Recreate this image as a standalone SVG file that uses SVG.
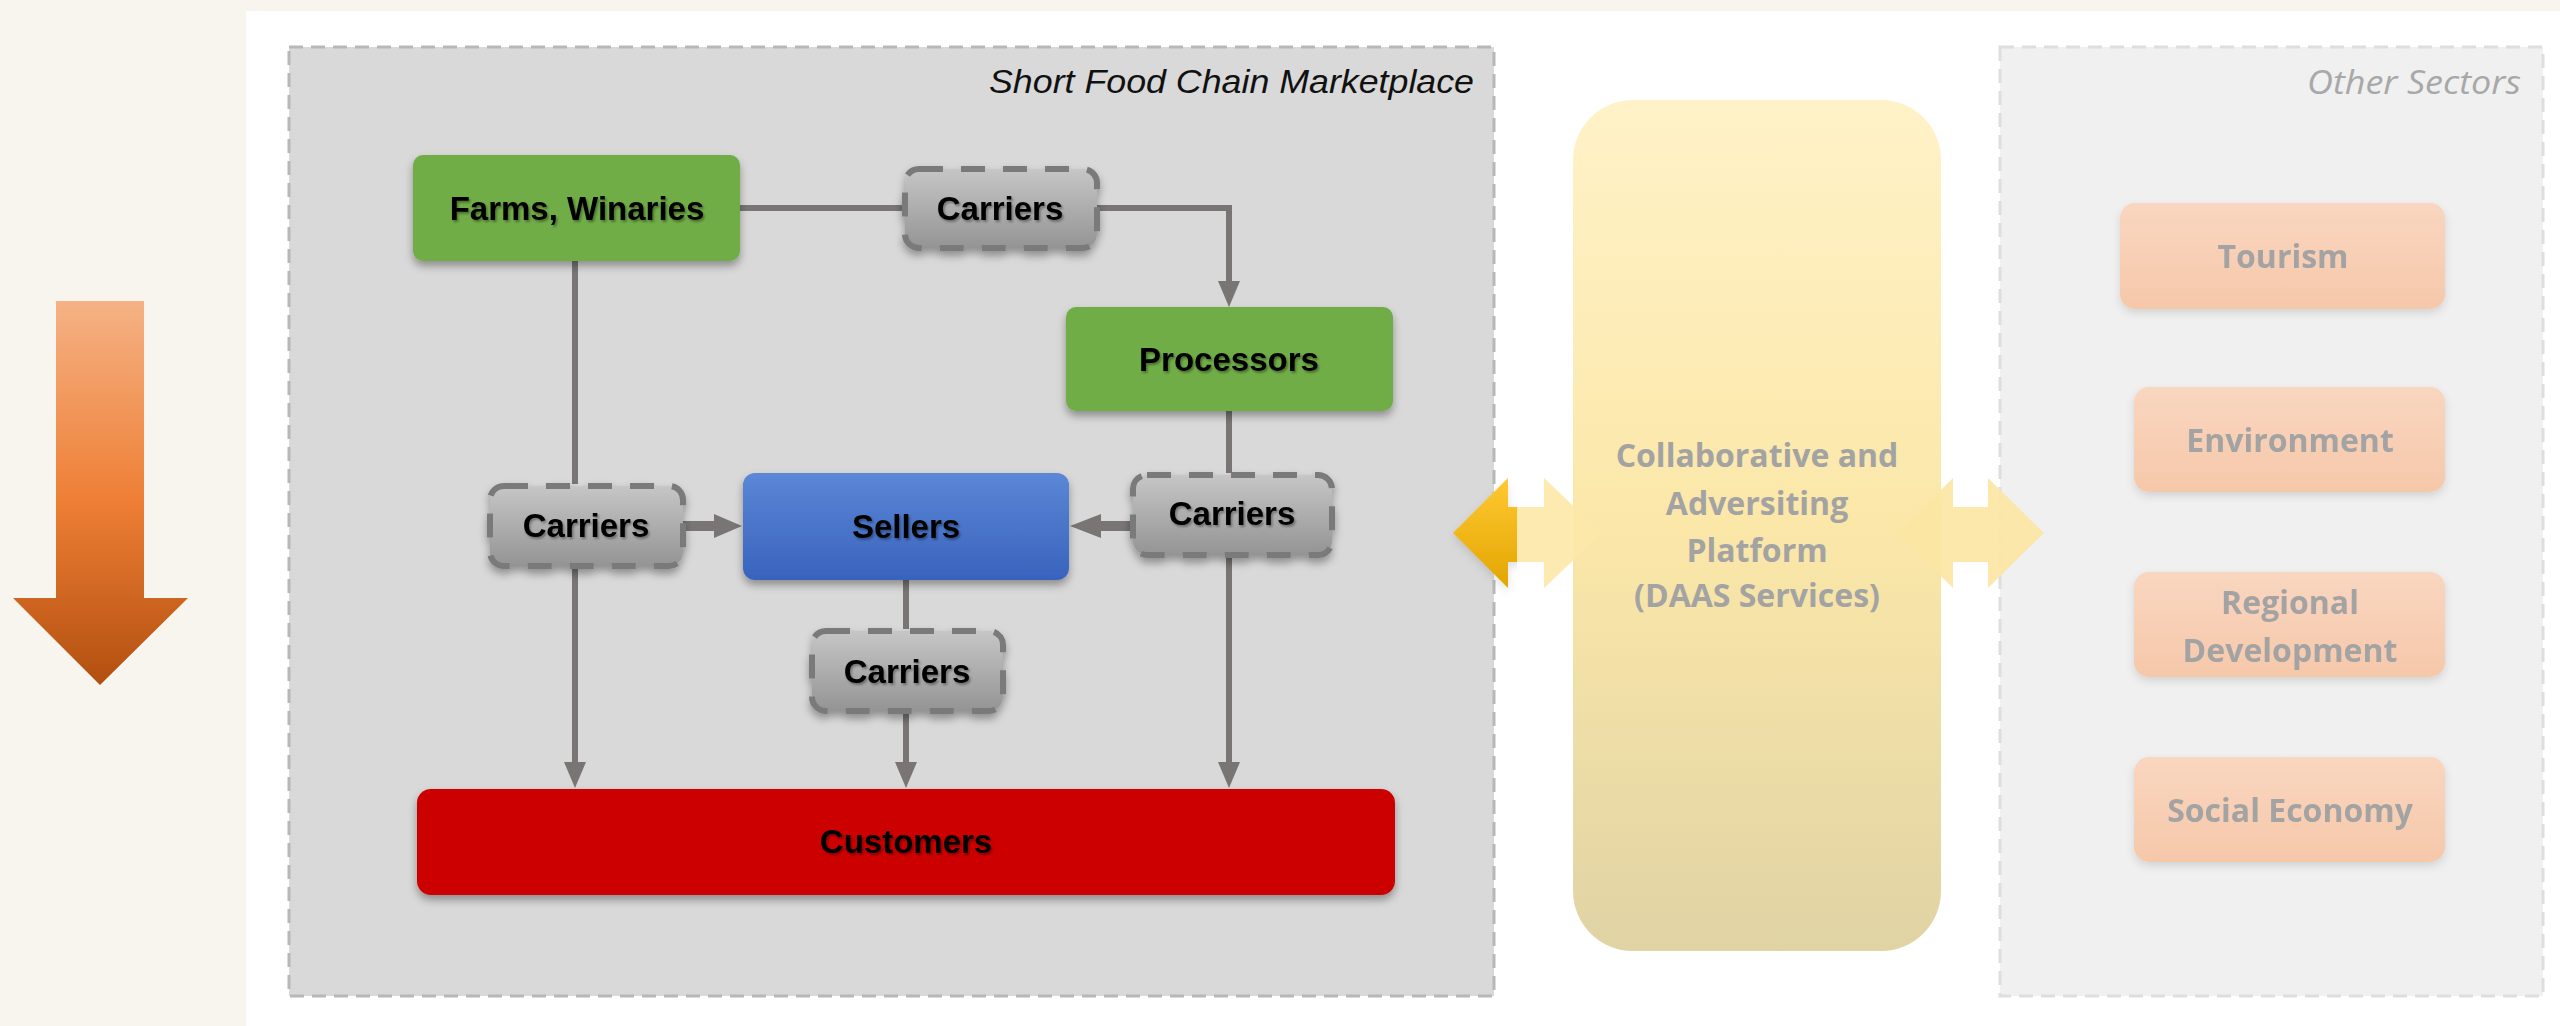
<svg xmlns="http://www.w3.org/2000/svg" width="2560" height="1026" viewBox="0 0 2560 1026">
<style>
.lbl{font-family:"Liberation Sans",Arial,sans-serif;font-weight:bold;font-size:33px;fill:#000;text-anchor:middle}
.pale{font-family:"Open Sans","DejaVu Sans",sans-serif;font-weight:bold;font-size:32px;fill:#A3A3A3;text-anchor:middle}
.conn{fill:none;stroke:#797575;stroke-width:6}
.carrier{fill:url(#gCar);stroke:#7A7A7A;stroke-width:6;stroke-dasharray:24 18}
.sector{fill:url(#gSec)}
</style>
<defs>
<linearGradient id="gOr" x1="0" y1="0" x2="0" y2="1">
<stop offset="0" stop-color="#F5B285"/><stop offset="0.52" stop-color="#EE7F35"/><stop offset="1" stop-color="#B24F0F"/>
</linearGradient>
<linearGradient id="gCar" x1="0" y1="0" x2="0" y2="1">
<stop offset="0" stop-color="#C6C6C6"/><stop offset="1" stop-color="#949494"/>
</linearGradient>
<linearGradient id="gBlue" x1="0" y1="0" x2="0" y2="1">
<stop offset="0" stop-color="#5B87D6"/><stop offset="1" stop-color="#3863BD"/>
</linearGradient>
<linearGradient id="gPlat" x1="0" y1="0" x2="0" y2="1">
<stop offset="0" stop-color="#FFF2C8"/><stop offset="0.5" stop-color="#FBE7A8"/><stop offset="1" stop-color="#E0D3A4"/>
</linearGradient>
<linearGradient id="gGold" x1="0" y1="0" x2="0" y2="1">
<stop offset="0" stop-color="#FFC933"/><stop offset="1" stop-color="#E3A500"/>
</linearGradient>
<linearGradient id="gSec" x1="0" y1="0" x2="0" y2="1">
<stop offset="0" stop-color="#F9D6C0"/><stop offset="1" stop-color="#F6C8AA"/>
</linearGradient>
<filter id="sh" x="-10%" y="-20%" width="120%" height="150%">
<feDropShadow dx="0" dy="5" stdDeviation="4" flood-color="#000" flood-opacity="0.35"/>
</filter>
<filter id="shL" x="-10%" y="-20%" width="120%" height="150%">
<feDropShadow dx="0" dy="4" stdDeviation="4" flood-color="#000" flood-opacity="0.12"/>
</filter>
<filter id="ts" x="-5%" y="-20%" width="110%" height="150%">
<feDropShadow dx="1.5" dy="2" stdDeviation="1" flood-color="#000" flood-opacity="0.35"/>
</filter>
<marker id="ah" viewBox="0 0 26 22" refX="6" refY="11" markerWidth="26" markerHeight="22" markerUnits="userSpaceOnUse" orient="auto">
<path d="M0,0 L26,11 L0,22 z" fill="#797575"/>
</marker>
<clipPath id="cL"><rect x="1400" y="450" width="117" height="160"/></clipPath>
<clipPath id="cR"><rect x="1517" y="450" width="120" height="160"/></clipPath>
</defs>

<rect x="0" y="0" width="2560" height="1026" fill="#FFFFFF"/>
<rect x="0" y="0" width="2560" height="11" fill="#F8F5EE"/>
<rect x="0" y="0" width="246" height="1026" fill="#F8F5EE"/>

<g id="flow-arrow">
<polygon points="56,301 144,301 144,598 188,598 100,685 13,598 56,598" fill="url(#gOr)"/>
</g>

<g id="marketplace">
<rect x="289" y="47" width="1205" height="949" fill="#D9D9D9" stroke="#B8B8B8" stroke-width="3" stroke-dasharray="14 8"/>
<text x="1474" y="93" font-family="'Liberation Sans',Arial,sans-serif" font-style="italic" font-size="33" fill="#111" text-anchor="end" textLength="485" lengthAdjust="spacingAndGlyphs">Short Food Chain Marketplace</text>
</g>

<g id="other-sectors">
<rect x="2000" y="47" width="543" height="949" fill="#F0F0F0" stroke="#DEDEDE" stroke-width="3" stroke-dasharray="14 8"/>
<text x="2521" y="94" font-family="'Open Sans','DejaVu Sans',sans-serif" font-style="italic" font-size="33" fill="#A8A8A8" text-anchor="end" textLength="214" lengthAdjust="spacingAndGlyphs">Other Sectors</text>
</g>

<g id="connectors">
<path class="conn" d="M740,208 H905"/>
<path class="conn" d="M1097,208 H1229 V287" marker-end="url(#ah)"/>
<path class="conn" d="M575,261 V484"/>
<path class="conn" d="M575,568 V768" marker-end="url(#ah)"/>
<path class="conn" d="M1229,411 V473"/>
<path class="conn" d="M1229,556 V768" marker-end="url(#ah)"/>
<path class="conn" d="M906,580 V629"/>
<path class="conn" d="M906,713 V768" marker-end="url(#ah)"/>
<polygon points="683,521 714,521 714,514 742,526 714,538 714,531 683,531" fill="#797575"/>
<polygon points="1132,521 1101,521 1101,514 1070,526 1101,538 1101,531 1132,531" fill="#797575"/>
</g>

<g id="farms" filter="url(#sh)">
<rect x="413" y="155" width="327" height="106" rx="10" fill="#70AD47"/>
</g>
<text class="lbl" x="577" y="220" filter="url(#ts)">Farms, Winaries</text>

<g id="carriers-top" filter="url(#sh)">
<rect class="carrier" x="905" y="169" width="192" height="79" rx="14"/>
</g>
<text class="lbl" x="1000" y="220" filter="url(#ts)">Carriers</text>

<g id="processors" filter="url(#sh)">
<rect x="1066" y="307" width="327" height="104" rx="10" fill="#70AD47"/>
</g>
<text class="lbl" x="1229" y="371" filter="url(#ts)">Processors</text>

<g id="carriers-left" filter="url(#sh)">
<rect class="carrier" x="490" y="486" width="193" height="80" rx="14"/>
</g>
<text class="lbl" x="586" y="537" filter="url(#ts)">Carriers</text>

<g id="sellers" filter="url(#sh)">
<rect x="743" y="473" width="326" height="107" rx="12" fill="url(#gBlue)"/>
</g>
<text class="lbl" x="906" y="538" filter="url(#ts)">Sellers</text>

<g id="carriers-right" filter="url(#sh)">
<rect class="carrier" x="1133" y="475" width="199" height="80" rx="14"/>
</g>
<text class="lbl" x="1232" y="525" filter="url(#ts)">Carriers</text>

<g id="carriers-bottom" filter="url(#sh)">
<rect class="carrier" x="812" y="631" width="191" height="80" rx="14"/>
</g>
<text class="lbl" x="907" y="683" filter="url(#ts)">Carriers</text>

<g id="customers" filter="url(#sh)">
<rect x="417" y="789" width="978" height="106" rx="14" fill="#CD0000"/>
</g>
<text class="lbl" x="906" y="853" filter="url(#ts)">Customers</text>

<g id="platform">
<rect x="1573" y="100" width="368" height="851" rx="60" fill="url(#gPlat)"/>
<text class="pale" x="1757" y="467">Collaborative and</text>
<text class="pale" x="1757" y="515">Adversiting</text>
<text class="pale" x="1757" y="562">Platform</text>
<text class="pale" x="1757" y="607">(DAAS Services)</text>
</g>

<g id="link-left">
<polygon clip-path="url(#cL)" filter="url(#shL)" points="1453,533 1508,478 1508,507 1544,507 1544,478 1602,533 1544,588 1544,562 1508,562 1508,588" fill="url(#gGold)"/>
<polygon clip-path="url(#cR)" points="1453,533 1508,478 1508,507 1544,507 1544,478 1602,533 1544,588 1544,562 1508,562 1508,588" fill="#FCE8A8" opacity="0.9"/>
</g>

<g id="link-right">
<polygon points="1897,533 1953,478 1953,507 1988,507 1988,478 2044,533 1988,588 1988,562 1953,562 1953,588" fill="#FCE6A4" opacity="0.92"/>
</g>

<g id="tourism" filter="url(#shL)">
<rect class="sector" x="2120" y="203" width="325" height="106" rx="15"/>
<text class="pale" x="2283" y="268">Tourism</text>
</g>
<g id="environment" filter="url(#shL)">
<rect class="sector" x="2134" y="387" width="311" height="105" rx="15"/>
<text class="pale" x="2290" y="452">Environment</text>
</g>
<g id="regional-development" filter="url(#shL)">
<rect class="sector" x="2134" y="572" width="311" height="105" rx="15"/>
<text class="pale" x="2290" y="614">Regional</text>
<text class="pale" x="2290" y="662">Development</text>
</g>
<g id="social-economy" filter="url(#shL)">
<rect class="sector" x="2134" y="757" width="311" height="105" rx="15"/>
<text class="pale" x="2290" y="822">Social Economy</text>
</g>
</svg>
